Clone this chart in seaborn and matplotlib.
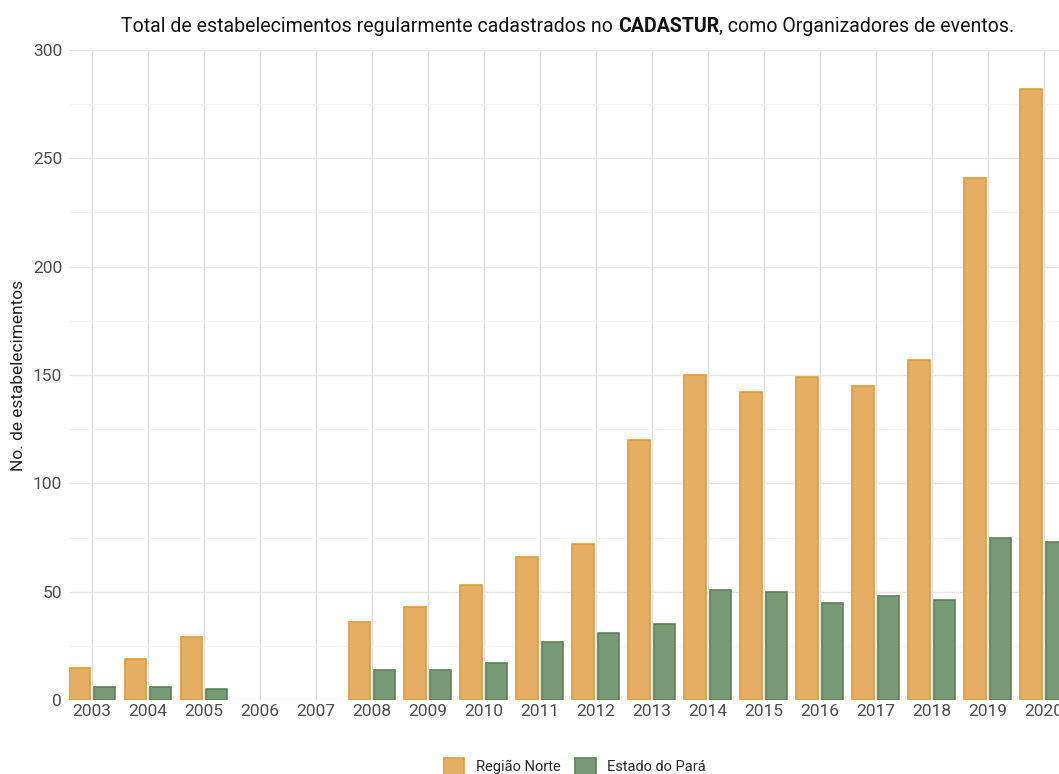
import numpy as np
import pandas as pd
import matplotlib
matplotlib.use("Agg")
import matplotlib.pyplot as plt
import seaborn as sns
from matplotlib.patches import Patch
from matplotlib.ticker import MultipleLocator

# dados (2006 e 2007 sem registros)
anos = [str(a) for a in range(2003, 2021)]
regiao_norte = [15, 19, 29, np.nan, np.nan, 36, 43, 53, 66, 72, 120, 150, 142, 149, 145, 157, 241, 282]
estado_para = [6, 6, 5, np.nan, np.nan, 14, 14, 17, 27, 31, 35, 51, 50, 45, 48, 46, 75, 73]
series = ["Região Norte", "Estado do Pará"]
cores = ["#E4AF62", "#789A76"]
bordas = ["#E49A35", "#5A8457"]

df = pd.DataFrame({
    "ano": anos * 2,
    "valor": regiao_norte + estado_para,
    "serie": [series[0]] * len(anos) + [series[1]] * len(anos),
})

sns.set_theme(style="whitegrid")
plt.rcParams["font.family"] = ["Roboto", "DejaVu Sans"]

W, H = 1059, 774
fig = plt.figure(figsize=(W / 100, H / 100), dpi=100)
ax = fig.add_axes([69 / W, 1 - 700 / H, (W - 69) / W, 650 / H])

sns.barplot(data=df, x="ano", y="valor", hue="serie", hue_order=series,
            palette=cores, saturation=1, width=0.9, gap=0.14, linewidth=1.2, ax=ax)
for cont, b in zip(ax.containers, bordas):
    for p in cont:
        p.set_edgecolor(b)

ax.get_legend().remove()
ax.set_xlim(-0.41, 17.27)
ax.set_ylim(0, 300)
ax.yaxis.set_major_locator(MultipleLocator(50))
ax.yaxis.set_minor_locator(MultipleLocator(25))
ax.grid(which="major", axis="y", color="#E6E6E6", linewidth=1.0)
ax.grid(which="minor", axis="y", color="#F3F3F3", linewidth=0.8)
ax.grid(which="major", axis="x", color="#DEDEDE", linewidth=1.0)
ax.set_axisbelow(True)
for s in ax.spines.values():
    s.set_visible(False)
ax.tick_params(axis="both", which="both", length=0, labelsize=12.5, labelcolor="#4D4D4D")
ax.tick_params(axis="y", pad=5)
ax.tick_params(axis="x", pad=3)
ax.set_xlabel("")
ax.set_ylabel("No. de estabelecimentos", fontsize=12.5, color="#222222", labelpad=5)

# título com CADASTUR em negrito, ajustado para a largura do original
tam = 15.0
t1 = fig.text(0, 1 - 26 / H, "Total de estabelecimentos regularmente cadastrados no ",
              fontsize=tam, va="center", ha="left", color="#111111")
t2 = ax.annotate("CADASTUR", xy=(1, 0), xycoords=t1, va="bottom", ha="left",
                 fontsize=tam, fontweight="bold", color="#111111", annotation_clip=False)
t3 = ax.annotate(", como Organizadores de eventos.", xy=(1, 0), xycoords=t2, va="bottom", ha="left",
                 fontsize=tam, color="#111111", annotation_clip=False)
r = fig.canvas.get_renderer()
larg = sum(t.get_window_extent(r).width for t in (t1, t2, t3))
tam = tam * 892 / larg
for t in (t1, t2, t3):
    t.set_fontsize(tam)
larg = sum(t.get_window_extent(r).width for t in (t1, t2, t3))
t1.set_x((568 - larg / 2) / W)

handles = [Patch(facecolor=c, edgecolor=b, linewidth=1.2) for c, b in zip(cores, bordas)]
fig.legend(handles, series, loc="upper center", bbox_to_anchor=(575 / W, 1 - 755 / H),
           ncol=2, frameon=False, fontsize=10.5, handlelength=1.4, handleheight=1.4,
           columnspacing=1.0, handletextpad=0.8, borderaxespad=0, borderpad=0.2)

fig.savefig("out.png", dpi=100)
